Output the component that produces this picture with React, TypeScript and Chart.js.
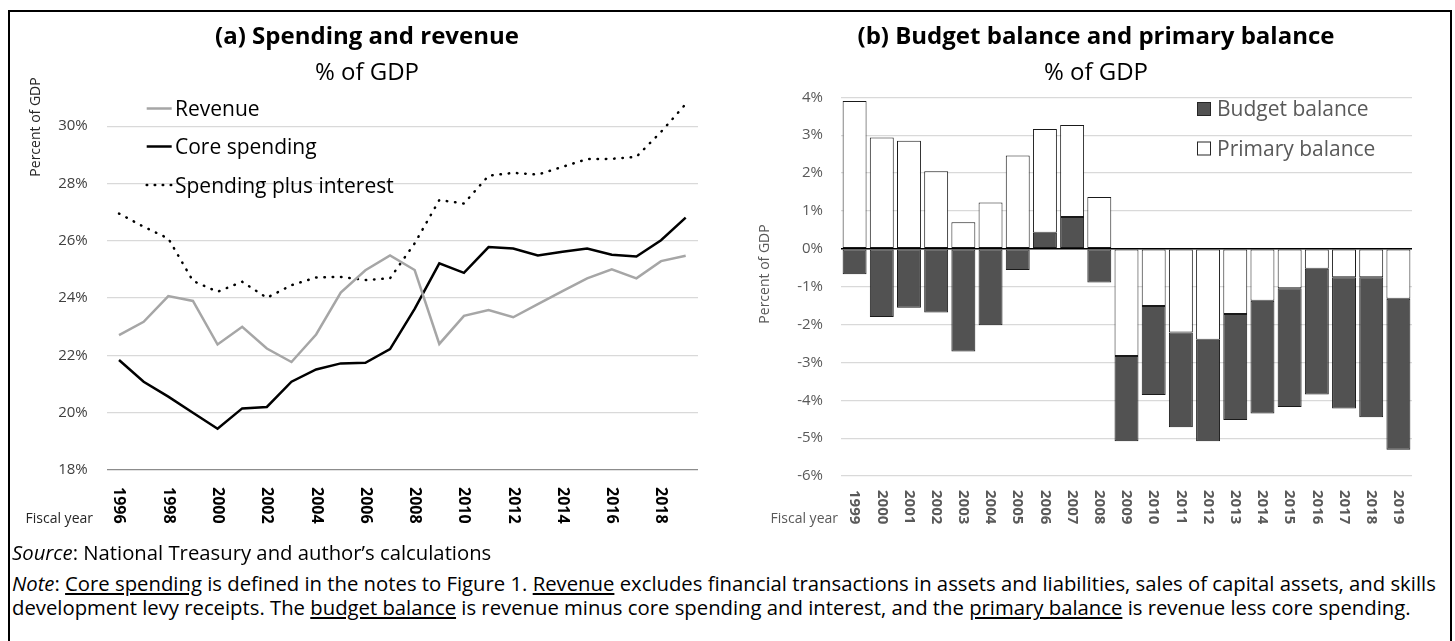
import React, { useEffect, useRef } from 'react';
import { Chart, registerables } from 'chart.js';

Chart.register(...registerables);

const FONT = '"Open Sans", "Noto Sans", sans-serif';

// ---------- Panel (a) data ----------
const leftYears = ['1996', '1997', '1998', '1999', '2000', '2001', '2002', '2003', '2004', '2005', '2006', '2007',
  '2008', '2009', '2010', '2011', '2012', '2013', '2014', '2015', '2016', '2017', '2018', '2019'];
const revenue = [22.71, 23.17, 24.07, 23.9, 22.38, 23.0, 22.24, 21.77, 22.73, 24.19, 24.97, 25.49,
  24.98, 22.4, 23.38, 23.58, 23.33, 23.79, 24.24, 24.69, 25.0, 24.69, 25.29, 25.48];
const coreSpending = [21.84, 21.08, 20.56, 20.0, 19.44, 20.15, 20.2, 21.08, 21.51, 21.72, 21.74, 22.22,
  23.62, 25.21, 24.88, 25.78, 25.73, 25.49, 25.62, 25.73, 25.51, 25.45, 26.02, 26.81];
const spendingPlusInterest = [26.95, 26.49, 26.08, 24.6, 24.22, 24.57, 24.01, 24.45, 24.72, 24.74, 24.63, 24.69,
  25.91, 27.42, 27.3, 28.27, 28.37, 28.31, 28.58, 28.85, 28.86, 28.93, 29.8, 30.77];
const leftTickValues = [18, 20, 22, 24, 26, 28, 30];

// ---------- Panel (b) data ----------
const rightYears = ['1999', '2000', '2001', '2002', '2003', '2004', '2005', '2006', '2007', '2008', '2009', '2010',
  '2011', '2012', '2013', '2014', '2015', '2016', '2017', '2018', '2019'];
const budgetBalance = [-0.67, -1.8, -1.56, -1.68, -2.71, -2.02, -0.56, 0.42, 0.84, -0.89, -5.08, -3.86,
  -4.71, -5.08, -4.52, -4.35, -4.18, -3.85, -4.22, -4.45, -5.31];
const primaryBalance = [3.9, 2.94, 2.85, 2.05, 0.7, 1.22, 2.46, 3.16, 3.27, 1.37, -2.83, -1.51,
  -2.21, -2.4, -1.72, -1.37, -1.04, -0.53, -0.75, -0.75, -1.32];

// visible segments of the two overlapping bars
function segment(b: number, p: number) {
  const same = Math.sign(b) === Math.sign(p);
  if (!same) return { dark: [0, b], white: [0, p] };
  if (Math.abs(b) >= Math.abs(p)) return { dark: [p, b], white: [0, p] };
  return { dark: [0, b], white: [b, p] };
}
const darkSegments = budgetBalance.map((b, i) => segment(b, primaryBalance[i]).dark);
const whiteSegments = budgetBalance.map((b, i) => segment(b, primaryBalance[i]).white);

// canvas placement on the page
const L = { x: 10, y: 12, w: 715, h: 533 };
const R = { x: 727, y: 12, w: 723, h: 533 };

const leftDecor = {
  id: 'leftDecor',
  afterDraw(chart: any) {
    const ctx = chart.ctx;
    const xs = chart.scales.x;
    ctx.save();
    ctx.fillStyle = '#000';
    ctx.font = `bold 16px ${FONT}`;
    ctx.textAlign = 'left';
    ctx.textBaseline = 'middle';
    leftYears.forEach((y, i) => {
      if (i % 2 !== 0) return;
      const px = xs.getPixelForValue(i);
      ctx.save();
      ctx.translate(px, 487 - L.y);
      ctx.rotate(Math.PI / 2);
      ctx.fillText(y, 0, 0);
      ctx.restore();
    });
    ctx.save();
    ctx.translate(36.5 - L.x, 127 - L.y);
    ctx.rotate(-Math.PI / 2);
    ctx.textAlign = 'center';
    ctx.textBaseline = 'middle';
    ctx.fillStyle = '#262626';
    ctx.font = `14px ${FONT}`;
    ctx.fillText('Percent of GDP', 0, 0);
    ctx.restore();
    const rows = [
      { label: 'Revenue', color: '#a6a6a6', dash: [] as number[], base: 116 },
      { label: 'Core spending', color: '#000', dash: [] as number[], base: 154 },
      { label: 'Spending plus interest', color: '#000', dash: [0.5, 7.5], base: 192.5 },
    ];
    rows.forEach((r) => {
      const ly = r.base - 7.5 - L.y;
      ctx.save();
      ctx.strokeStyle = r.color;
      ctx.lineWidth = 2.5;
      ctx.setLineDash(r.dash);
      ctx.lineCap = r.dash.length ? 'round' : 'butt';
      ctx.beginPath();
      ctx.moveTo(146.7 - L.x, ly);
      ctx.lineTo(171.7 - L.x, ly);
      ctx.stroke();
      ctx.restore();
      ctx.fillStyle = '#000';
      ctx.font = `21px ${FONT}`;
      ctx.textAlign = 'left';
      ctx.textBaseline = 'alphabetic';
      ctx.fillText(r.label, 175 - L.x, r.base - L.y);
    });
    ctx.restore();
  },
};

const rightDecor = {
  id: 'rightDecor',
  afterDraw(chart: any) {
    const ctx = chart.ctx;
    const xs = chart.scales.x;
    ctx.save();
    ctx.fillStyle = '#595959';
    ctx.font = `bold 15px ${FONT}`;
    ctx.textAlign = 'left';
    ctx.textBaseline = 'middle';
    rightYears.forEach((y, i) => {
      const px = xs.getPixelForValue(i);
      ctx.save();
      ctx.translate(px, 490 - R.y);
      ctx.rotate(Math.PI / 2);
      ctx.fillText(y, 0, 0);
      ctx.restore();
    });
    ctx.save();
    ctx.translate(765 - R.x, 274 - R.y);
    ctx.rotate(-Math.PI / 2);
    ctx.textAlign = 'center';
    ctx.textBaseline = 'middle';
    ctx.fillStyle = '#595959';
    ctx.font = `14px ${FONT}`;
    ctx.fillText('Percent of GDP', 0, 0);
    ctx.restore();
    const rows = [
      { label: 'Budget balance', fill: '#525252', base: 116, top: 102.5 },
      { label: 'Primary balance', fill: '#ffffff', base: 156, top: 142 },
    ];
    rows.forEach((r) => {
      ctx.fillStyle = r.fill;
      ctx.fillRect(1197.5 - R.x, r.top - R.y, 13, 13);
      ctx.strokeStyle = '#262626';
      ctx.lineWidth = 1;
      ctx.strokeRect(1197.5 - R.x, r.top - R.y, 13, 13);
      ctx.fillStyle = '#595959';
      ctx.font = `21px ${FONT}`;
      ctx.textAlign = 'left';
      ctx.textBaseline = 'alphabetic';
      ctx.fillText(r.label, 1217 - R.x, r.base - R.y);
    });
    ctx.restore();
  },
};

export default function App() {
  const leftRef = useRef<HTMLCanvasElement>(null);
  const rightRef = useRef<HTMLCanvasElement>(null);

  useEffect(() => {
    Chart.defaults.font.family = FONT;
    const left = new Chart(leftRef.current as HTMLCanvasElement, {
      type: 'line',
      data: {
        labels: leftYears,
        datasets: [
          { label: 'Revenue', data: revenue, borderColor: '#a6a6a6', borderWidth: 2.5, pointRadius: 0, tension: 0 },
          { label: 'Core spending', data: coreSpending, borderColor: '#000', borderWidth: 2.5, pointRadius: 0, tension: 0 },
          {
            label: 'Spending plus interest', data: spendingPlusInterest, borderColor: '#000', borderWidth: 2.5,
            borderDash: [0.5, 7.8], borderCapStyle: 'round', pointRadius: 0, tension: 0,
          },
        ],
      },
      options: {
        responsive: false,
        animation: false,
        layout: { padding: { left: 0, right: L.w - (698 - L.x), top: 97.5 - L.y, bottom: 0 } },
        plugins: { legend: { display: false }, tooltip: { enabled: false } },
        scales: {
          x: {
            offset: true,
            grid: { display: false },
            border: { display: false },
            ticks: { display: false },
            afterFit: (s: any) => { s.height = L.h - (470 - L.y); },
          },
          y: {
            min: 18,
            max: 31,
            afterBuildTicks: (s: any) => { s.ticks = leftTickValues.map((v) => ({ value: v })); },
            afterFit: (s: any) => { s.width = 106.7 - L.x; },
            border: { display: false },
            grid: {
              drawTicks: false,
              color: (c: any) => (c.tick && c.tick.value === 18 ? '#8c8c8c' : '#d9d9d9'),
              lineWidth: 1.2,
            },
            ticks: {
              padding: 19,
              color: '#404040',
              font: { size: 15, family: FONT },
              callback: (v: any) => `${v}%`,
            },
          },
        },
      } as any,
      plugins: [leftDecor],
    });

    const right = new Chart(rightRef.current as HTMLCanvasElement, {
      type: 'bar',
      data: {
        labels: rightYears,
        datasets: [
          {
            label: 'Budget balance', data: darkSegments as any, backgroundColor: '#525252', borderColor: '#1a1a1a',
            borderWidth: 1, borderSkipped: false, grouped: false, barPercentage: 0.88, categoryPercentage: 1,
          },
          {
            label: 'Primary balance', data: whiteSegments as any, backgroundColor: '#ffffff', borderColor: '#1a1a1a',
            borderWidth: 1, borderSkipped: false, grouped: false, barPercentage: 0.88, categoryPercentage: 1,
          },
        ],
      },
      options: {
        responsive: false,
        animation: false,
        layout: { padding: { left: 0, right: R.w - (1412 - R.x), top: 97.3 - R.y, bottom: 0 } },
        plugins: { legend: { display: false }, tooltip: { enabled: false } },
        scales: {
          x: {
            grid: { display: false },
            border: { display: false },
            ticks: { display: false },
            afterFit: (s: any) => { s.height = R.h - (476 - R.y); },
          },
          y: {
            min: -6,
            max: 4,
            afterFit: (s: any) => { s.width = 841 - R.x; },
            border: { display: false },
            grid: {
              drawTicks: false,
              color: (c: any) => (c.tick && c.tick.value === 0 ? '#000' : '#d9d9d9'),
              lineWidth: (c: any) => (c.tick && c.tick.value === 0 ? 1.5 : 1.2),
            },
            ticks: {
              stepSize: 1,
              padding: 18,
              color: '#595959',
              font: { size: 15, family: FONT },
              callback: (v: any) => `${v}%`,
            },
          },
        },
      } as any,
      plugins: [rightDecor],
    });

    return () => {
      left.destroy();
      right.destroy();
    };
  }, []);

  const abs = (x: number, y: number): React.CSSProperties => ({ position: 'absolute', left: x, top: y });
  const titleStyle: React.CSSProperties = {
    position: 'absolute', fontFamily: FONT, fontWeight: 700, fontSize: 24, lineHeight: '24px',
    color: '#000', whiteSpace: 'nowrap', transform: 'translateX(-50%)',
  };
  const subStyle: React.CSSProperties = { ...titleStyle, fontWeight: 400 };
  const noteStyle: React.CSSProperties = { fontFamily: FONT, fontSize: 20.3, lineHeight: '24px', color: '#000', whiteSpace: 'nowrap' };

  return (
    <div style={{ position: 'fixed', left: 0, top: 0, width: 1455, height: 641, overflow: 'hidden', background: '#fff' }}>
      <div style={{ ...abs(26, -30.5), fontFamily: FONT, fontWeight: 700, fontSize: 27, lineHeight: '27px', color: '#44546a', whiteSpace: 'nowrap' }}>
        Figure 2: Spending, revenue and the budget balance
      </div>
      <div style={{ ...abs(8, 10), width: 1444, height: 700, border: '2px solid #000', boxSizing: 'border-box' }} />

      <canvas ref={leftRef} width={L.w} height={L.h} style={{ ...abs(L.x, L.y), display: 'block' }} />
      <canvas ref={rightRef} width={R.w} height={R.h} style={{ ...abs(R.x, R.y), display: 'block' }} />

      <div style={{ ...titleStyle, left: 367, top: 22.7 }}>(a) Spending and revenue</div>
      <div style={{ ...subStyle, left: 367, top: 58.7 }}>% of GDP</div>
      <div style={{ ...titleStyle, left: 1096, top: 22.7 }}>(b) Budget balance and primary balance</div>
      <div style={{ ...subStyle, left: 1096, top: 58.7 }}>% of GDP</div>

      <div style={{ position: 'absolute', right: 1455 - 93, top: 510, fontFamily: FONT, fontSize: 14, lineHeight: '16px', color: '#262626', whiteSpace: 'nowrap' }}>
        Fiscal year
      </div>
      <div style={{ position: 'absolute', right: 1455 - 838, top: 510, fontFamily: FONT, fontSize: 14, lineHeight: '16px', color: '#595959', whiteSpace: 'nowrap' }}>
        Fiscal year
      </div>

      <div style={{ ...abs(12, 540), ...noteStyle }}>
        <i>Source</i>: National Treasury and author’s calculations
      </div>
      <div style={{ ...abs(12, 571), ...noteStyle }}>
        <i>Note</i>: <u>Core spending</u> is defined in the notes to Figure 1. <u>Revenue</u> excludes financial transactions in assets and liabilities, sales of capital assets, and skills
        <br />
        development levy receipts. The <u>budget balance</u> is revenue minus core spending and interest, and the <u>primary balance</u> is revenue less core spending.
      </div>
    </div>
  );
}
